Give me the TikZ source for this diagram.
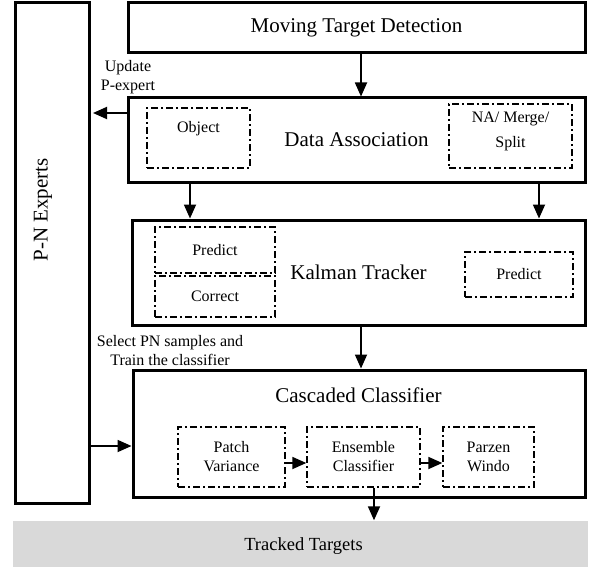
\documentclass[tikz,border=0pt]{standalone}
\usepackage{fontspec}
\setmainfont{Liberation Serif}
\usetikzlibrary{arrows.meta}
\begin{document}
\begin{tikzpicture}[x=1pt,y=-1pt,
  bigbox/.style={draw,line width=3pt,inner sep=0pt,font=\fontsize{21}{24}\selectfont},
  subbox/.style={draw,line width=1.4pt,dash pattern=on 7pt off 3pt on 2pt off 3pt,inner sep=0pt,align=center,font=\fontsize{16}{19}\selectfont},
  lbl/.style={inner sep=0pt,align=center,font=\fontsize{16}{19}\selectfont},
  big/.style={inner sep=0pt,font=\fontsize{21}{24}\selectfont},
  arr/.style={line width=1.8pt,-{Triangle[length=14pt,width=12pt]}}]
\useasboundingbox (0,0) rectangle (589,567);
% boxes
\node[bigbox,minimum width=74pt,minimum height=500pt] (pn) at (52,253) {};
\node[big,rotate=90] (pnt) at (43,210) {P-N Experts};
\node[bigbox,minimum width=457pt,minimum height=50pt] (mtd) at (356.5,28) {Moving Target Detection};
\node[bigbox,minimum width=457pt,minimum height=84pt] (da) at (356.5,140) {Data Association};
\node[bigbox,minimum width=453pt,minimum height=105pt] (kt) at (358.5,272.5) {Kalman Tracker};
\node[bigbox,minimum width=452pt,minimum height=127pt] (cc) at (359,433.5) {};
\node[big] (cct) at (358.5,395) {Cascaded Classifier};
% sub boxes
\node[subbox,minimum width=103pt,minimum height=60pt] (obj) at (198.5,138) {};
\node[lbl] (objt) at (198.5,129) {Object};
\node[subbox,minimum width=123pt,minimum height=64pt] (na) at (510.5,136) {};
\node[lbl,font=\fontsize{16}{25}\selectfont] (nat) at (510.5,131) {NA/ Merge/\\Split};
\node[subbox,minimum width=120pt,minimum height=46pt] (pr1) at (215,250) {Predict};
\node[subbox,minimum width=120pt,minimum height=41pt] (co) at (215,296.5) {Correct};
\node[subbox,minimum width=108pt,minimum height=45pt] (pr2) at (519,274.5) {Predict};
\node[subbox,minimum width=107pt,minimum height=60pt] (pv) at (231.5,457) {Patch\\Variance};
\node[subbox,minimum width=113pt,minimum height=60pt] (ec) at (363.5,457) {Ensemble\\Classifier};
\node[subbox,minimum width=91pt,minimum height=60pt] (pw) at (488.5,457) {Parzen\\Windo};
% tracked targets
\node[fill=black!15,minimum width=575pt,minimum height=47pt,inner sep=0pt] (tt) at (300.5,544) {};
\node[inner sep=0pt,font=\fontsize{18.5}{22}\selectfont] (ttt) at (303.5,546) {Tracked Targets};
% labels
\node[lbl] (upd) at (128,77) {Update\\P-expert};
\node[lbl] (sel) at (170,351) {Select PN samples and\\Train the classifier};
% connectors
\draw[arr] (mtd.south -| 361,0) -- (da.north -| 361,0);
\draw[arr] (da.west |- 0,113) -- (93,113) coordinate (pnin);
\draw[arr] (da.south -| 190,0) -- (kt.north -| 190,0);
\draw[arr] (da.south -| 539,0) -- (kt.north -| 539,0);
\draw[arr] (kt.south -| 361,0) -- (cc.north -| 361,0);
\draw[arr] (pn.east |- 0,446) -- (cc.west |- 0,446);
\draw[arr] (pv.east |- 0,463) -- (ec.west |- 0,463);
\draw[arr] (ec.east |- 0,463) -- (pw.west |- 0,463);
\draw[arr] (ec.south -| 374,0) -- (tt.north -| 374,0);
\end{tikzpicture}
\end{document}
